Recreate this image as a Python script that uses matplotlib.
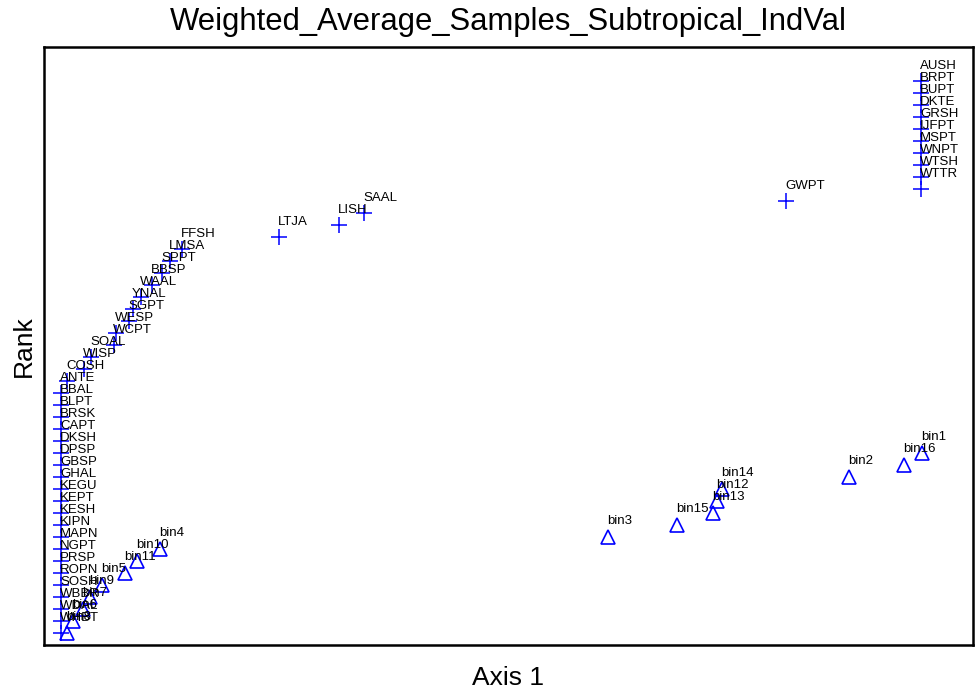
import matplotlib
matplotlib.use('Agg')
import matplotlib.pyplot as plt

plt.rcParams['font.family'] = ['Liberation Sans', 'DejaVu Sans']

# species: axis 1 score (0-100 scale) and rank
species = ['ANTE', 'BBAL', 'BLPT', 'BRSK', 'CAPT', 'DKSH', 'DPSP', 'GBSP', 'GHAL',
           'KEGU', 'KEPT', 'KESH', 'KIPN', 'MAPN', 'NGPT', 'PRSP', 'ROPN', 'SOSH',
           'WBBR', 'WDAL', 'WHBT',
           'COSH', 'WISP', 'SOAL', 'WCPT', 'WESP', 'SGPT', 'YNAL', 'WAAL', 'BBSP',
           'SPPT', 'LMSA', 'FFSH', 'LTJA', 'LISH', 'SAAL', 'GWPT',
           'AUSH', 'BRPT', 'BUPT', 'DKTE', 'GRSH', 'IJFPT', 'MSPT', 'WNPT', 'WTSH', 'WTTR']
sp_axis1 = [1.83] * 21 + [2.48, 4.31, 5.06, 7.53, 7.75, 9.15, 9.58, 10.44, 11.63,
                          12.70, 13.56, 14.85, 25.30, 31.75, 34.45, 79.87] + [94.40] * 10
sp_rank = list(range(21, 0, -1)) + list(range(22, 38)) + list(range(47, 37, -1))

# sample bins
bins = ['bin8', 'bin6', 'bin7', 'bin9', 'bin5', 'bin11', 'bin10', 'bin4',
        'bin3', 'bin15', 'bin13', 'bin12', 'bin14', 'bin2', 'bin16', 'bin1']
bin_axis1 = [2.48, 3.12, 4.20, 4.95, 6.24, 8.72, 10.01, 12.49,
             60.71, 68.14, 72.01, 72.44, 72.98, 86.65, 92.57, 94.51]
bin_rank = [1, 2, 3, 4, 5, 6, 7, 8, 9, 10, 11, 12, 13, 14, 15, 16]

fig = plt.figure(figsize=(9.76, 6.91), dpi=100)
ax = fig.add_axes([0.0451, 0.0666, 0.9518, 0.8654])

ax.plot(sp_axis1, sp_rank, linestyle='none', marker='+', color='#0000ff',
        markersize=11, markeredgewidth=1.1)
ax.plot(bin_axis1, bin_rank, linestyle='none', marker='^', color='#0000ff',
        markerfacecolor='none', markersize=9.5, markeredgewidth=1.2)

for name, x, y in zip(species, sp_axis1, sp_rank):
    ax.annotate(name, (x, y), xytext=(-1, 15), textcoords='offset pixels',
                ha='left', va='center', fontsize=9.5, color='black')
for name, x, y in zip(bins, bin_axis1, bin_rank):
    ax.annotate(name, (x, y), xytext=(-1, 16), textcoords='offset pixels',
                ha='left', va='center', fontsize=9.5, color='black')

ax.set_xlim(0, 100)
ax.set_ylim(0, 49.83)
ax.set_xticks([])
ax.set_yticks([])
for s in ax.spines.values():
    s.set_linewidth(1.8)
    s.set_color('black')

ax.set_title('Weighted_Average_Samples_Subtropical_IndVal', fontsize=22.3, pad=12)
ax.set_xlabel('Axis 1', fontsize=19, labelpad=15)
ax.set_ylabel('Rank', fontsize=19, labelpad=6)

fig.savefig('out.png', dpi=100)
